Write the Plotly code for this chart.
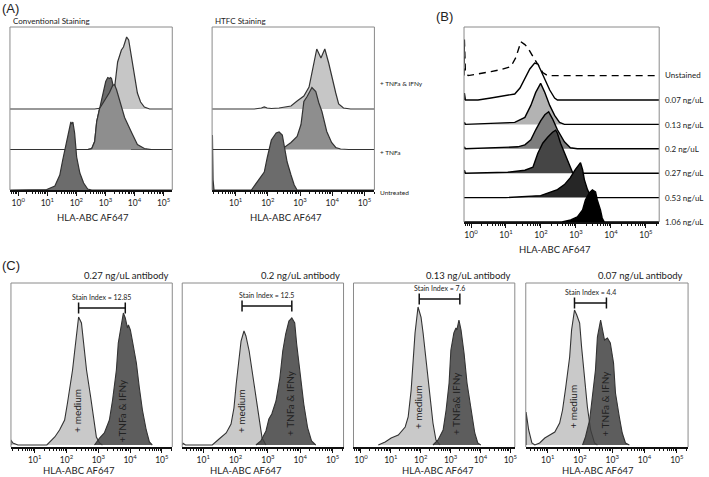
import plotly.graph_objects as go

W, H = 709, 477
FONT = "Lato"
TXT = "#222222"

# ================= DATA =================
# Panel A – conventional staining (log10 intensity, normalized count)
convA_ifn_log = [2.63, 2.87, 3.07, 3.21, 3.31, 3.42, 3.55, 3.62, 3.73, 3.80, 3.90, 4.00, 4.10, 4.21, 4.34, 4.52]
convA_ifn_cnt = [0, 1, 3, 8, 20, 47, 59, 62, 72, 69, 51, 31, 16, 7, 2, 0]
convA_tnfB_log = [2.39, 2.53, 2.63, 2.70, 2.80, 2.90, 3.01, 3.08, 3.14, 3.18, 3.21, 3.28, 3.35, 3.49, 3.66, 3.90]
convA_tnfB_cnt = [0, 1, 8, 28, 41, 55, 68, 72, 71, 72, 71, 62, 52, 40, 25, 0]
convA_tnf_log = [2.39, 2.53, 2.63, 2.70, 2.80, 2.97, 3.14, 3.25, 3.31, 3.38, 3.49, 3.66, 3.90, 4.10, 4.34, 4.58]
convA_tnf_cnt = [0, 1, 8, 28, 41, 49, 57, 64, 65, 60, 48, 32, 17, 5, 1, 0]
convA_unt_log = [0.74, 0.98, 1.26, 1.43, 1.53, 1.67, 1.77, 1.81, 1.84, 1.88, 1.94, 2.01, 2.12, 2.25, 2.39, 2.53]
convA_unt_cnt = [0, 0.5, 4, 15, 30, 50, 65, 68, 66, 68, 57, 33, 17, 7, 1, 0]

# Panel A – HTFC staining
htfc_ifn_log = [1.58, 1.80, 1.89, 1.98, 2.11, 2.35, 2.72, 2.91, 3.12, 3.28, 3.43, 3.52, 3.65, 3.77, 3.89, 3.98, 4.11, 4.20, 4.35, 4.57]
htfc_ifn_cnt = [0, 1, 2, 1, 0.5, 1, 3, 8, 13, 22, 46, 60, 51, 60, 46, 33, 16, 5, 1, 0]
htfc_tnf_log = [2.05, 2.51, 2.72, 2.91, 3.03, 3.12, 3.22, 3.37, 3.49, 3.58, 3.68, 3.83, 3.98, 4.11, 4.26, 4.51]
htfc_tnf_cnt = [0, 2, 7, 13, 25, 48, 53, 62, 58, 47, 38, 18, 7, 2, 0.5, 0]
htfc_unt_log = [0.28, 0.30, 0.33, 1.49, 1.68, 1.89, 1.98, 2.11, 2.26, 2.35, 2.45, 2.51, 2.60, 2.72, 2.82, 2.91]
htfc_unt_cnt = [55, 10, 0, 0, 8, 18, 32, 50, 57, 58, 55, 45, 28, 15, 5, 0]
laneA_labels = ["+ TNFa & IFNy", "+ TNFa", "Untreated"]

# Panel B – titration
titr_labels = ["Unstained", "0.07 ng/uL", "0.13 ng/uL", "0.2 ng/uL", "0.27 ng/uL", "0.53 ng/uL", "1.06 ng/uL"]
titr_log = [
    [-0.19, -0.16, -0.08, 0.57, 0.86, 1.14, 1.28, 1.40, 1.42, 1.54, 1.62, 1.77, 1.91, 2.05, 2.19],
    [-0.19, -0.16, 0.20, 0.57, 0.97, 1.25, 1.40, 1.54, 1.68, 1.82, 1.91, 1.99, 2.11, 2.25, 2.39, 2.47],
    [-0.19, -0.16, 0.57, 1.25, 1.54, 1.71, 1.85, 1.96, 1.99, 2.03, 2.11, 2.25, 2.39, 2.53, 2.67],
    [-0.19, -0.16, 1.34, 1.54, 1.71, 1.85, 1.99, 2.11, 2.22, 2.33, 2.47, 2.67, 2.84, 3.04],
    [-0.19, -0.16, 1.05, 1.54, 1.77, 1.91, 2.05, 2.19, 2.33, 2.42, 2.47, 2.56, 2.67, 2.82, 2.90, 2.96],
    [1.00, 1.99, 2.47, 2.67, 2.84, 2.98, 3.07, 3.13, 3.19, 3.24, 3.33, 3.41, 3.47],
    [2.60, 2.85, 3.04, 3.19, 3.27, 3.38, 3.47, 3.56, 3.61, 3.70, 3.75, 3.81],
]
titr_cnt = [
    [36, 3, 0, 4, 6, 9, 18, 31, 34, 31, 28, 19, 11, 3, 0],
    [7, 0, 0, 2, 4, 6, 12, 21, 31, 37, 36, 30, 21, 10, 2, 0],
    [2, 0, 1, 2, 7, 19, 32, 39, 41, 38, 32, 19, 9, 2, 0],
    [2, 0, 2, 4, 9, 19, 28, 34, 37, 30, 19, 7, 1, 0],
    [3, 0, 1, 3, 6, 20, 30, 36, 41, 43, 40, 30, 20, 8, 1, 0],
    [0, 2, 8, 13, 20, 28, 33, 35, 28, 18, 8, 2, 0],
    [0, 2, 5, 12, 22, 29, 32, 30, 22, 12, 4, 0],
]

# Panel C – stain index at four antibody concentrations
c_titles = ["0.27 ng/uL antibody", "0.2 ng/uL antibody", "0.13 ng/uL antibody", "0.07 ng/uL antibody"]
c_stain_index = [12.85, 12.5, 7.6, 4.4]
c_med_label = ["+ medium", "+ medium", "+ medium", "+ medium"]
c_trt_label = ["+TNFa & IFNy", "+ TNFa & IFNy", "+ TNFa& IFNy", "+ TNFa & IFNy"]
c_med_log = [
    [0.25, 0.31, 0.47, 1.38, 1.47, 1.63, 1.78, 1.94, 2.03, 2.13, 2.19, 2.25, 2.32, 2.38, 2.47, 2.54, 2.63, 2.76, 2.85, 2.94, 3.04, 3.13],
    [0.36, 0.45, 1.28, 1.49, 1.71, 1.86, 1.95, 2.02, 2.11, 2.17, 2.26, 2.32, 2.42, 2.51, 2.63, 2.72, 2.82, 2.94],
    [0.58, 0.81, 1.01, 1.25, 1.48, 1.58, 1.68, 1.75, 1.81, 1.91, 2.01, 2.08, 2.18, 2.31, 2.41, 2.51, 2.65],
    [0.33, 0.41, 0.51, 0.60, 0.75, 0.91, 1.06, 1.22, 1.37, 1.46, 1.56, 1.68, 1.74, 1.83, 1.90, 1.99, 2.05, 2.14, 2.23, 2.33, 2.45, 2.54],
]
c_med_cnt = [
    [5, 2, 0, 0, 3, 8, 15, 25, 42, 62, 75, 92, 112, 128, 122, 102, 75, 48, 25, 8, 2, 0],
    [2, 0, 0, 6, 12, 21, 37, 61, 87, 104, 114, 109, 94, 74, 44, 24, 7, 0],
    [0, 3, 7, 10, 18, 28, 55, 82, 112, 138, 128, 112, 85, 52, 22, 5, 0],
    [33, 15, 2, 0, 2, 7, 10, 13, 22, 35, 58, 88, 115, 135, 130, 122, 98, 68, 38, 15, 2, 0],
]
c_trt_log = [
    [2.88, 3.04, 3.19, 3.35, 3.45, 3.57, 3.63, 3.73, 3.79, 3.85, 3.92, 3.95, 4.01, 4.07, 4.20, 4.29, 4.39, 4.51, 4.61, 4.70],
    [2.63, 2.78, 2.94, 3.03, 3.12, 3.25, 3.37, 3.46, 3.55, 3.65, 3.74, 3.83, 3.89, 4.02, 4.11, 4.23, 4.35, 4.48],
    [2.41, 2.58, 2.75, 2.85, 2.95, 3.01, 3.11, 3.18, 3.21, 3.28, 3.35, 3.45, 3.55, 3.68, 3.81, 3.91, 4.01],
    [2.08, 2.17, 2.30, 2.39, 2.48, 2.54, 2.64, 2.70, 2.76, 2.85, 2.94, 3.04, 3.10, 3.22, 3.31, 3.41, 3.53],
]
c_trt_cnt = [
    [0, 7, 12, 25, 45, 75, 102, 122, 132, 127, 117, 120, 115, 105, 82, 58, 35, 15, 3, 0],
    [0, 4, 14, 26, 31, 44, 67, 94, 111, 124, 127, 122, 101, 67, 41, 17, 4, 0],
    [0, 5, 15, 35, 62, 95, 112, 117, 115, 125, 115, 92, 62, 35, 12, 2, 0],
    [0, 8, 25, 48, 75, 108, 125, 115, 105, 107, 102, 82, 52, 28, 12, 2, 0],
]
# stain-index bar: log10 of the two peak positions
c_bar_log = [[2.38, 3.85], [2.20, 3.74], [1.95, 3.31], [1.83, 2.82]]
c_bar_cnt = [137, 139, 146, 142]

# ================= LAYOUT HELPERS =================
def dom_x(x0, x1):
    return [x0 / W, x1 / W]

def dom_y(top, bot):
    return [1 - bot / H, 1 - top / H]

minor_vals = [k * 10 ** n for n in range(-1, 6) for k in range(2, 10)]

def xaxis_cfg(box, rng):
    x0, top, x1, bot = box
    return dict(type="log", domain=dom_x(x0, x1), range=rng,
                tickvals=[10 ** n for n in range(6)],
                ticktext=[f"10<sup>{n}</sup>" for n in range(6)],
                showline=True, linecolor="#111", linewidth=1.5, mirror=False,
                ticks="outside", ticklen=4, tickwidth=1.2, tickcolor="#111",
                tickfont=dict(size=8.5, family=FONT, color=TXT),
                showgrid=False, zeroline=False, fixedrange=True,
                minor=dict(tickvals=minor_vals, ticks="outside", ticklen=2,
                           tickwidth=1, tickcolor="#111", showgrid=False))

def yaxis_cfg(box, rng):
    x0, top, x1, bot = box
    return dict(domain=dom_y(top, bot), range=rng, showline=False, showticklabels=False,
                ticks="", showgrid=False, zeroline=False, fixedrange=True)

# boxes (left, top, right, bottom) in pixels
boxes = {
    1: (10, 27, 173, 190),
    2: (213, 27, 376, 190),
    3: (466, 27, 662, 222),
    4: (11, 283, 173, 447),
    5: (183, 283, 345, 447),
    6: (355, 283, 517, 447),
    7: (528, 283, 691, 447),
}
xranges = {1: [-0.285, 5.30], 2: [0.27, 5.31], 3: [-0.2, 5.38],
           4: [0.25, 5.33], 5: [0.35, 5.34], 6: [-0.25, 5.15], 7: [0.32, 5.35]}
yranges = {1: [0, 163], 2: [0, 163], 3: [0, 195],
           4: [-2, 162], 5: [-2, 162], 6: [-2, 162], 7: [-2, 162]}

def ax_names(i):
    return ("x" if i == 1 else f"x{i}", "y" if i == 1 else f"y{i}")

traces = []

def hist(i, logs, cnts, off, fill, line="#333333", width=1.2, full=True, dash=None):
    lo, hi = xranges[i]
    xs = list(logs)
    ys = [off + c for c in cnts]
    if full:
        xs = [lo] + xs + [hi]
    else:
        xs = [xs[0]] + xs + [xs[-1]]
    ys = [off] + ys + [off]
    xa, ya = ax_names(i)
    traces.append(go.Scatter(
        x=[10 ** v for v in xs], y=ys, xaxis=xa, yaxis=ya, mode="lines",
        fill="toself" if fill else "none", fillcolor=fill,
        line=dict(color=line, width=width, dash=dash),
        hoverinfo="skip", showlegend=False))

# ---- Panel A ----
laneA = 40.5
hist(1, convA_ifn_log, convA_ifn_cnt, 2 * laneA, "#c6c6c6")
hist(1, convA_tnfB_log, convA_tnfB_cnt, laneA, "#6c6c6c")
hist(1, convA_tnf_log, convA_tnf_cnt, laneA, "#8e8e8e")
hist(1, convA_unt_log, convA_unt_cnt, 0, "#6c6c6c")

hist(2, htfc_ifn_log, htfc_ifn_cnt, 2 * laneA, "#c6c6c6")
hist(2, htfc_tnf_log, htfc_tnf_cnt, laneA, "#8e8e8e")
hist(2, htfc_unt_log, htfc_unt_cnt, 0, "#6c6c6c")

# ---- Panel B ----
laneB = 24.4
b_fills = [None, "#ffffff", "#b3b3b3", "#7d7d7d", "#454545", "#262626", "#000000"]
for k in range(7):
    off = (6 - k) * laneB
    hist(3, titr_log[k], titr_cnt[k], off, b_fills[k], line="#000000", width=1.4,
         dash="7px,5px" if k == 0 else None)

# ---- Panel C ----
for j in range(4):
    i = 4 + j
    hist(i, c_med_log[j], c_med_cnt[j], 0, "#c9c9c9", full=False, width=1.1)
    hist(i, c_trt_log[j], c_trt_cnt[j], 0, "rgba(62,62,62,0.84)", full=False, width=1.1)
    xa, ya = ax_names(i)
    traces.append(go.Scatter(
        x=[10 ** v for v in c_bar_log[j]], y=[c_bar_cnt[j]] * 2, xaxis=xa, yaxis=ya,
        mode="lines+markers", line=dict(color="#111", width=1.5),
        marker=dict(symbol="line-ns-open", size=8, line=dict(color="#111", width=1.5)),
        hoverinfo="skip", showlegend=False))

fig = go.Figure(traces)

layout = dict(width=W, height=H, margin=dict(l=0, r=0, t=0, b=0),
              paper_bgcolor="white", plot_bgcolor="white",
              font=dict(family=FONT, color=TXT), showlegend=False)
for i in range(1, 8):
    xa, ya = ax_names(i)
    xkey = "xaxis" if i == 1 else f"xaxis{i}"
    ykey = "yaxis" if i == 1 else f"yaxis{i}"
    layout[xkey] = xaxis_cfg(boxes[i], xranges[i])
    layout[xkey]["anchor"] = ya
    layout[ykey] = yaxis_cfg(boxes[i], yranges[i])
    layout[ykey]["anchor"] = xa

# frames (left, top, right sides)
shapes = []
for i in range(1, 8):
    x0, top, x1, bot = boxes[i]
    px0, px1 = x0 / W, x1 / W
    pyt, pyb = 1 - top / H, 1 - bot / H
    shapes.append(dict(type="path", xref="paper", yref="paper",
                       path=f"M {px0} {pyb} L {px0} {pyt} L {px1} {pyt} L {px1} {pyb}",
                       line=dict(color="#8a8a8a", width=1)))
layout["shapes"] = shapes

ann = []

def ann_px(text, x, y, size, xanchor="center", family=FONT):
    ann.append(dict(text=text, x=x / W, y=1 - y / H, xref="paper", yref="paper",
                    xanchor=xanchor, yanchor="middle", showarrow=False,
                    font=dict(size=size, family=family, color=TXT)))

ann_px("(A)", 0, 9, 13, "left", "Liberation Sans")
ann_px("(B)", 436, 16, 13, "left", "Liberation Sans")
ann_px("(C)", 0, 265, 13, "left", "Liberation Sans")
ann_px("Conventional Staining", 11, 21, 8, "left")
ann_px("HTFC Staining", 214, 21, 8, "left")
for x, y in [(93, 217), (287, 217), (557, 249), (79, 470), (247, 470), (440, 470), (601, 470)]:
    ann_px("HLA-ABC AF647", x, y, 9.5)
for lbl, y in zip(laneA_labels, [83, 153, 192]):
    ann_px(lbl, 380, y, 6.5, "left")
for lbl, y in zip(titr_labels, [75, 100, 125, 149, 173, 198, 222]):
    ann_px(lbl, 666, y, 8, "left")
for t, xr in zip(c_titles, [172, 343, 515, 688]):
    ann_px(t, xr, 275, 9.5, "right")

# panel C in-plot labels (data coordinates)
med_pos = [(2.32, 34), (2.17, 34), (1.91, 38), (1.77, 38)]
trt_pos = [(3.76, 34), (3.68, 42), (3.18, 42), (2.79, 42)]
for j in range(4):
    xa, ya = ax_names(4 + j)
    for (lx, ly), lbl in [(med_pos[j], c_med_label[j]), (trt_pos[j], c_trt_label[j])]:
        ann.append(dict(text=lbl, x=lx, y=ly, xref=xa, yref=ya, textangle=-90,
                        showarrow=False, xanchor="center", yanchor="middle",
                        font=dict(size=10, family=FONT, color=TXT)))
    mid = (c_bar_log[j][0] + c_bar_log[j][1]) / 2
    ann.append(dict(text=f"Stain Index = {c_stain_index[j]}", x=mid, y=c_bar_cnt[j] + 11,
                    xref=xa, yref=ya, showarrow=False, xanchor="center", yanchor="middle",
                    font=dict(size=7, family=FONT, color=TXT)))
layout["annotations"] = ann

fig.update_layout(**layout)
fig.write_html("out.html", config={"displayModeBar": False},
               post_script="document.body.style.margin='0';document.body.style.padding='0';")
